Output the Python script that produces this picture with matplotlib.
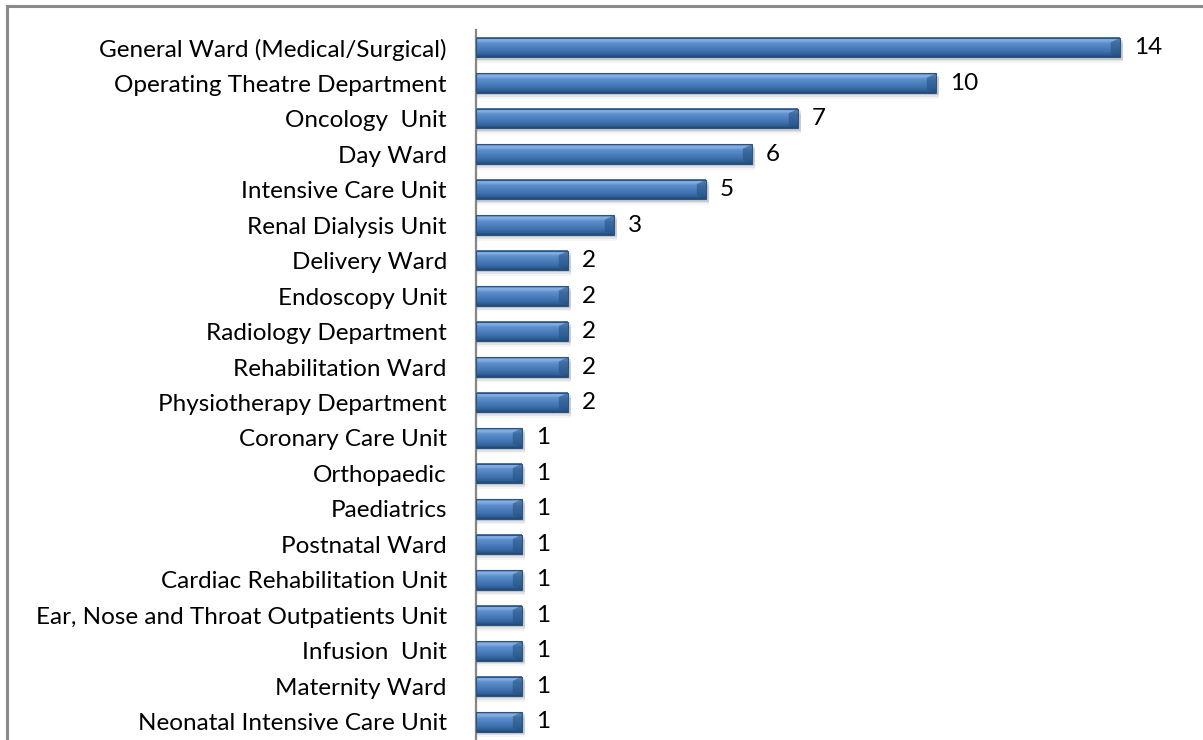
import matplotlib
matplotlib.use("Agg")
import matplotlib.pyplot as plt
import numpy as np
from matplotlib.colors import LinearSegmentedColormap
from matplotlib.lines import Line2D

departments = [
    "General Ward (Medical/Surgical)",
    "Operating Theatre Department",
    "Oncology  Unit",
    "Day Ward",
    "Intensive Care Unit",
    "Renal Dialysis Unit",
    "Delivery Ward",
    "Endoscopy Unit",
    "Radiology Department",
    "Rehabilitation Ward",
    "Physiotherapy Department",
    "Coronary Care Unit",
    "Orthopaedic",
    "Paediatrics",
    "Postnatal Ward",
    "Cardiac Rehabilitation Unit",
    "Ear, Nose and Throat Outpatients Unit",
    "Infusion  Unit",
    "Maternity Ward",
    "Neonatal Intensive Care Unit",
]
counts = [14, 10, 7, 6, 5, 3, 2, 2, 2, 2, 2, 1, 1, 1, 1, 1, 1, 1, 1, 1]

plt.rcParams['font.family'] = ['Lato', 'DejaVu Sans']
FS = 17.5

W, H = 1203, 740
fig = plt.figure(figsize=(W / 100, H / 100), dpi=100)
fig.patch.set_facecolor('white')

# axes placed so the y axis line sits at x=476px, top at y=30px
left, top, bottom = 476 / W, 30 / H, 0.5 / H
xmax = 15
ax = fig.add_axes([left, bottom, xmax * 46 / W, 1 - top - bottom])

n = len(departments)
y = np.arange(n)
bar_h = 0.55

# vertical gradient used for the bevelled bar look (top -> bottom)
bar_cmap = LinearSegmentedColormap.from_list(
    'bevel',
    [(0.0, '#3a6aa3'), (0.12, '#8fb6e6'), (0.3, '#5d8fcc'),
     (0.7, '#3f72b0'), (0.9, '#2f5d93'), (1.0, '#21476f')])
grad = np.linspace(0, 1, 64).reshape(-1, 1)

bars = ax.barh(y, counts, height=bar_h, color='#4a7ab5', zorder=2)
for rect, v in zip(bars, counts):
    x0, y0 = rect.get_x(), rect.get_y()
    w, h = rect.get_width(), rect.get_height()
    # soft shadow under the bar
    for k, a in enumerate([0.10, 0.07, 0.04]):
        ax.add_patch(plt.Rectangle((x0 + 0.02, y0 + 0.06 + k * 0.05), w + 0.05, h,
                                   color='black', alpha=a, lw=0, zorder=1))
    ax.imshow(grad, aspect='auto', cmap=bar_cmap, extent=(x0, x0 + w, y0 + h, y0),
              zorder=3, interpolation='bilinear')
    # bevel on the right end
    bev = 0.2
    ax.add_patch(plt.Polygon([(x0 + w - bev, y0 + 0.12), (x0 + w, y0),
                              (x0 + w, y0 + h), (x0 + w - bev, y0 + h - 0.1)],
                             closed=True, color='#23507f', alpha=0.55, lw=0, zorder=4))
    ax.add_patch(plt.Rectangle((x0, y0), w, h, fill=False, ec='#2a5485', lw=0.8, zorder=5))
    ax.annotate(str(v), (x0 + w, y0 + h / 2), xytext=(10, 0), textcoords='offset points',
                va='center', ha='left', fontsize=FS, color='black', clip_on=False)

ax.set_xlim(0, xmax)
ax.set_ylim(n - 0.5, -0.5)
ax.set_yticks(y)
ax.set_yticklabels(departments, fontsize=FS)
ax.tick_params(axis='y', length=0, pad=21)
ax.set_xticks([])
for s in ['top', 'right', 'bottom']:
    ax.spines[s].set_visible(False)
ax.spines['left'].set_color('#868686')
ax.spines['left'].set_linewidth(1.6)

# chart area border (only left and top are visible in the crop)
fig.add_artist(Line2D([7 / W, 7 / W], [0, 1 - 6 / H], color='#8a8a8a', lw=2.2))
fig.add_artist(Line2D([7 / W, 1], [1 - 6 / H, 1 - 6 / H], color='#8a8a8a', lw=2.2))

fig.savefig('out.png', dpi=100)
